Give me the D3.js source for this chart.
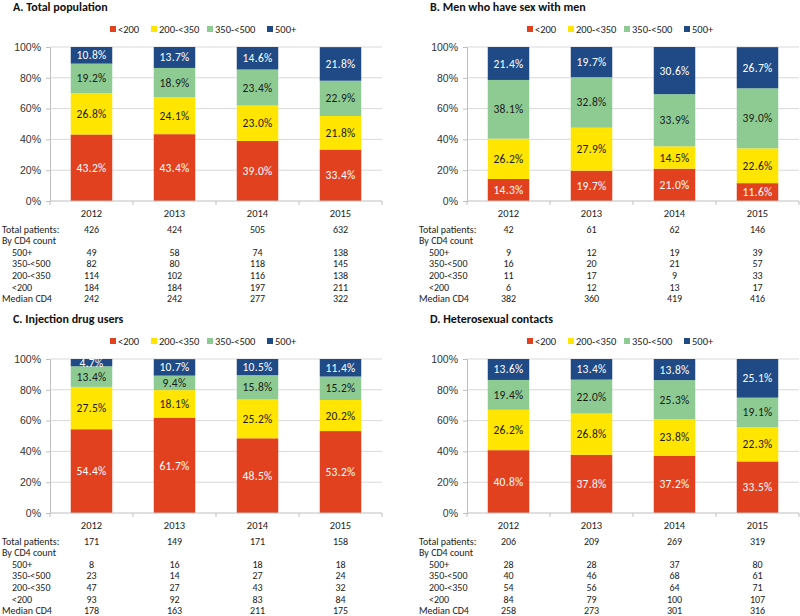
<!DOCTYPE html>
<html>
<head>
<meta charset="utf-8">
<script src="https://cdn.jsdelivr.net/npm/d3@7"></script>
<style>
  html, body { margin: 0; padding: 0; background: #fff; }
  svg { display: block; font-family: Carlito, Lato, "Liberation Sans", sans-serif; }
</style>
</head>
<body>
<svg id="chart" width="800" height="616"></svg>
<script>
// ---------- DATA ----------
const years = ["2012", "2013", "2014", "2015"];
const groups = ["<200", "200-<350", "350-<500", "500+"];
const colors = ["#E2411F", "#FFE500", "#8DCB93", "#204A85"];
const labelColors = ["#ffffff", "#1a1a1a", "#1a1a1a", "#ffffff"];
const yTicks = [0, 20, 40, 60, 80, 100];
const tableLabels = ["Total patients:", "By CD4 count", "500+", "350-<500", "200-<350", "<200", "Median CD4"];
const titles = ["A. Total population", "B. Men who have sex with men", "C. Injection drug users", "D. Heterosexual contacts"];

// percentages per year: [<200, 200-<350, 350-<500, 500+]
const pctTotal = [[43.2, 26.8, 19.2, 10.8], [43.4, 24.1, 18.9, 13.7], [39.0, 23.0, 23.4, 14.6], [33.4, 21.8, 22.9, 21.8]];
const pctMSM   = [[14.3, 26.2, 38.1, 21.4], [19.7, 27.9, 32.8, 19.7], [21.0, 14.5, 33.9, 30.6], [11.6, 22.6, 39.0, 26.7]];
const pctIDU   = [[54.4, 27.5, 13.4, 4.7], [61.7, 18.1, 9.4, 10.7], [48.5, 25.2, 15.8, 10.5], [53.2, 20.2, 15.2, 11.4]];
const pctHet   = [[40.8, 26.2, 19.4, 13.6], [37.8, 26.8, 22.0, 13.4], [37.2, 23.8, 25.3, 13.8], [33.5, 22.3, 19.1, 25.1]];

// table rows per year: total, 500+, 350-<500, 200-<350, <200, median
const totalTotal = [426, 424, 505, 632];
const n500Total = [49, 58, 74, 138];
const n350Total = [82, 80, 118, 145];
const n200Total = [114, 102, 116, 138];
const nLowTotal = [184, 184, 197, 211];
const medTotal  = [242, 242, 277, 322];

const totalMSM = [42, 61, 62, 146];
const n500MSM = [9, 12, 19, 39];
const n350MSM = [16, 20, 21, 57];
const n200MSM = [11, 17, 9, 33];
const nLowMSM = [6, 12, 13, 17];
const medMSM  = [382, 360, 419, 416];

const totalIDU = [171, 149, 171, 158];
const n500IDU = [8, 16, 18, 18];
const n350IDU = [23, 14, 27, 24];
const n200IDU = [47, 27, 43, 32];
const nLowIDU = [93, 92, 83, 84];
const medIDU  = [178, 163, 211, 175];

const totalHet = [206, 209, 269, 319];
const n500Het = [28, 28, 37, 80];
const n350Het = [40, 46, 68, 61];
const n200Het = [54, 56, 64, 71];
const nLowHet = [84, 79, 100, 107];
const medHet  = [258, 273, 301, 316];

const panels = [
  { title: titles[0], pct: pctTotal, rows: [totalTotal, null, n500Total, n350Total, n200Total, nLowTotal, medTotal], x0: 0, y0: 0 },
  { title: titles[1], pct: pctMSM, rows: [totalMSM, null, n500MSM, n350MSM, n200MSM, nLowMSM, medMSM], x0: 417, y0: 0 },
  { title: titles[2], pct: pctIDU, rows: [totalIDU, null, n500IDU, n350IDU, n200IDU, nLowIDU, medIDU], x0: 0, y0: 312 },
  { title: titles[3], pct: pctHet, rows: [totalHet, null, n500Het, n350Het, n200Het, nLowHet, medHet], x0: 417, y0: 312 }
];

// ---------- DRAW ----------
const svg = d3.select("#chart");
const legendOffsets = [0, 41, 97, 157];

panels.forEach(p => {
  const g = svg.append("g").attr("transform", `translate(${p.x0},${p.y0})`);
  const left = 50, right = 382, top = 47, bottom = 201;

  const x = d3.scaleBand().domain(years).range([left, right]).paddingInner(0.5).paddingOuter(0.25);
  const xb = d3.scaleBand().domain(years).range([left, right]);
  const y = d3.scaleLinear().domain([0, 100]).range([bottom, top]);

  // title
  g.append("text").attr("x", 13).attr("y", 11)
    .attr("font-size", 12).attr("font-weight", "bold").attr("fill", "#111")
    .text(p.title);

  // legend
  const lg = g.append("g").attr("transform", "translate(110,29)");
  groups.forEach((grp, i) => {
    lg.append("rect").attr("x", legendOffsets[i]).attr("y", -3).attr("width", 6).attr("height", 6).attr("fill", colors[i]);
    lg.append("text").attr("x", legendOffsets[i] + 8).attr("y", 0).attr("dy", "0.35em")
      .attr("font-size", 10.5).attr("fill", "#222").text(grp);
  });

  // gridlines
  g.append("g").selectAll("line").data(yTicks.filter(t => t > 0)).join("line")
    .attr("x1", left).attr("x2", right).attr("y1", d => y(d)).attr("y2", d => y(d))
    .attr("stroke", "#d9d9d9").attr("stroke-width", 1);

  // y axis
  const ya = g.append("g").attr("transform", `translate(${left},0)`)
    .call(d3.axisLeft(y).tickValues(yTicks).tickFormat(d => d + "%").tickSize(4).tickPadding(5));
  ya.select(".domain").attr("stroke", "#bfbfbf");
  ya.selectAll(".tick line").attr("stroke", "#bfbfbf");
  ya.selectAll("text").attr("font-size", 10.5).attr("fill", "#333").attr("font-family", null);

  // stacked bars
  const stackData = p.pct.map((row, yi) => {
    const o = { year: years[yi] };
    groups.forEach((grp, gi) => o[grp] = row[gi]);
    return o;
  });
  const series = d3.stack().keys(groups)(stackData);
  series.forEach((s, si) => {
    const sg = g.append("g");
    sg.selectAll("rect").data(s).join("rect")
      .attr("x", d => x(d.data.year)).attr("width", x.bandwidth())
      .attr("y", d => y(Math.min(d[1], 100))).attr("height", d => y(d[0]) - y(Math.min(d[1], 100)))
      .attr("fill", colors[si]);
    sg.selectAll("text").data(s).join("text")
      .attr("x", d => x(d.data.year) + x.bandwidth() / 2)
      .attr("y", d => (y(d[0]) + y(Math.min(d[1], 100))) / 2)
      .attr("dy", "0.35em").attr("text-anchor", "middle")
      .attr("font-size", 11.5).attr("letter-spacing", 0.3)
      .attr("fill", labelColors[si])
      .text(d => (d[1] - d[0]).toFixed(1) + "%");
  });

  // x axis
  g.append("line").attr("x1", left).attr("x2", right).attr("y1", bottom).attr("y2", bottom).attr("stroke", "#bfbfbf");
  const bounds = years.map(yr => xb(yr)).concat([right]);
  g.append("g").selectAll("line").data(bounds).join("line")
    .attr("x1", d => d).attr("x2", d => d).attr("y1", bottom).attr("y2", bottom + 4).attr("stroke", "#bfbfbf");

  // year labels
  g.append("g").selectAll("text").data(years).join("text")
    .attr("x", d => xb(d) + xb.bandwidth() / 2).attr("y", 213.5).attr("dy", "0.35em")
    .attr("text-anchor", "middle").attr("font-size", 10.5).attr("fill", "#222").text(d => d);

  // table
  const rowY = [229, 240.6, 252.2, 263.8, 275.4, 287, 298.6];
  tableLabels.forEach((lab, ri) => {
    const indent = (ri >= 2 && ri <= 5) ? 12 : 2;
    g.append("text").attr("x", indent).attr("y", rowY[ri]).attr("dy", "0.35em")
      .attr("font-size", 10).attr("fill", "#222").text(lab);
    const vals = p.rows[ri];
    if (vals) {
      g.append("g").selectAll("text").data(vals).join("text")
        .attr("x", (d, i) => xb(years[i]) + xb.bandwidth() / 2).attr("y", rowY[ri]).attr("dy", "0.35em")
        .attr("text-anchor", "middle").attr("font-size", 10).attr("fill", "#222").text(d => d);
    }
  });
});
</script>
</body>
</html>
